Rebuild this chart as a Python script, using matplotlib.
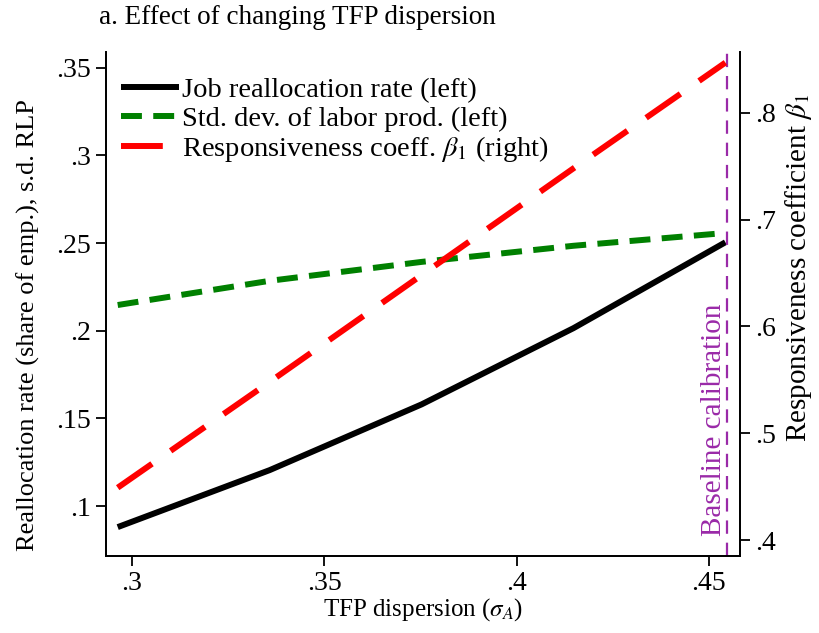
import matplotlib
matplotlib.use("Agg")
import matplotlib.pyplot as plt
import matplotlib.transforms as mtransforms

plt.rcParams['font.family'] = ['Liberation Serif', 'DejaVu Serif']
plt.rcParams['mathtext.fontset'] = 'stix'

# -----------------------------
# data
# -----------------------------
tfp_disp = [0.2963, 0.3358, 0.3753, 0.4148, 0.4543]
job_realloc = [0.088, 0.1205, 0.158, 0.2015, 0.2505]
sd_labor_prod = [0.2147, 0.2285, 0.2393, 0.2485, 0.2558]
resp_coeff = [0.449, 0.548, 0.648, 0.748, 0.847]
baseline_x = 0.4546

left_ticks = [0.1, 0.15, 0.2, 0.25, 0.3, 0.35]
left_labels = [".1", ".15", ".2", ".25", ".3", ".35"]
right_ticks = [0.4, 0.5, 0.6, 0.7, 0.8]
right_labels = [".4", ".5", ".6", ".7", ".8"]
x_ticks = [0.3, 0.35, 0.4, 0.45]
x_labels = [".3", ".35", ".4", ".45"]

# -----------------------------
# figure
# -----------------------------
fig = plt.figure(figsize=(8.2, 6.33), dpi=100)
ax = fig.add_axes([0.129, 0.1216, 0.773, 0.7964])
ax2 = ax.twinx()

l1, = ax.plot(tfp_disp, job_realloc, color="black", lw=4.3, solid_capstyle="butt",
              label="Job reallocation rate (left)")
l2, = ax.plot(tfp_disp, sd_labor_prod, color="#008000", lw=4.3, dashes=(3.5, 1.9),
              label="Std. dev. of labor prod. (left)")
l3, = ax2.plot(tfp_disp, resp_coeff, color="red", lw=4.3, dashes=(7, 3.8),
               label=r"Responsiveness coeff. $\beta_1$ (right)")

ax.axvline(baseline_x, color="#9a2aa8", lw=1.6, dashes=(6, 4))
trans = mtransforms.blended_transform_factory(ax.transData, ax.transAxes)
ax.text(baseline_x, 0.04, "Baseline calibration", rotation=90, color="#9a2aa8",
        fontsize=21, ha="right", va="bottom", transform=trans)

ax.set_xlim(0.2932, 0.458)
ax.set_ylim(0.0715, 0.3591)
ax2.set_ylim(0.385, 0.857)

ax.set_xticks(x_ticks, x_labels)
ax.set_yticks(left_ticks, left_labels)
ax2.set_yticks(right_ticks, right_labels)

for a in (ax, ax2):
    a.spines["top"].set_visible(False)
    a.tick_params(labelsize=20, length=7, width=1.3, direction="out", pad=4)
    for s in ("left", "right", "bottom"):
        a.spines[s].set_linewidth(1.3)

ax.set_xlabel(r"TFP dispersion ($\sigma_A$)", fontsize=18, labelpad=0)
ax.set_ylabel("Reallocation rate (share of emp.), s.d. RLP", fontsize=19)
ax.yaxis.set_label_coords(-0.104, 0.458)
ax2.set_ylabel(r"Responsiveness coefficient $\beta_1$", fontsize=21)
ax2.yaxis.set_label_coords(1.068, 0.571)

ax.set_title("a. Effect of changing TFP dispersion", fontsize=19.5, loc="left",
             x=-0.01, pad=20)

ax.legend(handles=[l1, l2, l3], loc="upper left", frameon=False, fontsize=20.5,
          handlelength=2.05, handletextpad=0.1, labelspacing=0.1,
          borderaxespad=0.3, bbox_to_anchor=(-0.008, 0.99))

fig.savefig("out.png", dpi=100)
